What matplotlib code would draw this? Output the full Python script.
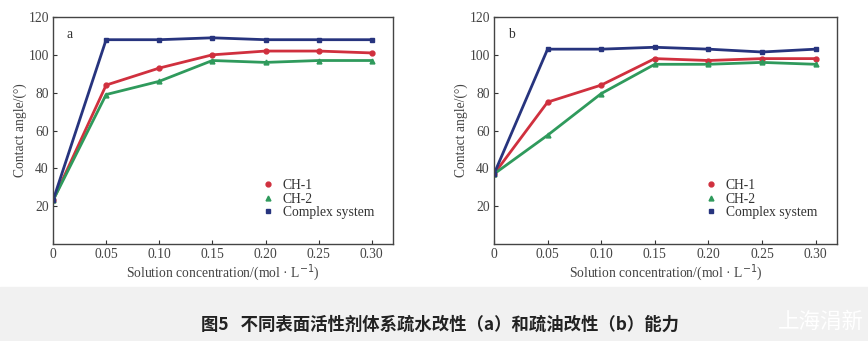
import numpy as np
import matplotlib.pyplot as plt
from matplotlib.patches import Rectangle

conc = [0, 0.05, 0.10, 0.15, 0.20, 0.25, 0.30]
xticks = [0, 0.05, 0.10, 0.15, 0.20, 0.25, 0.30]
xticklabels = ["0", "0.05", "0.10", "0.15", "0.20", "0.25", "0.30"]
yticks = [20, 40, 60, 80, 100, 120]

# (a) hydrophobic modification
a_ch1 = [23, 84, 93, 100, 102, 102, 101]
a_ch2 = [23, 79, 86, 97, 96, 97, 97]
a_cx = [23, 108, 108, 109, 108, 108, 108]

# (b) oleophobic modification
b_ch1 = [37, 75, 84, 98, 97, 98, 98]
b_ch2 = [37, 57.5, 79.5, 95, 95, 96, 95]
b_cx = [37, 103, 103, 104, 103, 101.5, 103]

names = ["CH-1", "CH-2", "Complex system"]
colors = ["#d0303e", "#2f9a5c", "#27347e"]
markers = ["o", "^", "s"]

serif = ["Liberation Serif", "DejaVu Serif"]
fs = 9.8

fig = plt.figure(figsize=(8.68, 3.41), dpi=100)
fig.patches.append(Rectangle((0, 0), 1, 54 / 341, transform=fig.transFigure,
                             color="#f1f1f1", zorder=0))

W, H = 868, 341
boxes = [(53, 17, 393, 244), (494, 17, 837, 244)]
panels = [("a", a_ch1, a_ch2, a_cx), ("b", b_ch1, b_ch2, b_cx)]

for (x0, y0, x1, y1), (tag, s1, s2, s3) in zip(boxes, panels):
    ax = fig.add_axes([x0 / W, 1 - y1 / H, (x1 - x0) / W, (y1 - y0) / H])
    for ys, c, m, n in zip([s1, s2, s3], colors, markers, names):
        ax.plot(conc, ys, color=c, lw=2.0, marker=m, ms=3.5, label=n)
    ax.set_xlim(0, 0.32)
    ax.set_ylim(0, 120)
    ax.set_xticks(xticks)
    ax.set_xticklabels(xticklabels)
    ax.set_yticks(yticks)
    ax.tick_params(direction="in", length=3, width=0.8, labelsize=fs,
                   colors="#333333", labelcolor="#444444", pad=3)
    for lab in ax.get_xticklabels() + ax.get_yticklabels():
        lab.set_family(serif)
    for sp in ax.spines.values():
        sp.set_color("#444444")
        sp.set_linewidth(1.0)
    ax.set_xlabel("Solution concentration/(mol · L$^{-1}$)", family=serif,
                  fontsize=fs, color="#444444", labelpad=1)
    ax.set_ylabel("Contact angle/(°)", family=serif, fontsize=fs,
                  color="#444444", labelpad=1)
    ax.text(0.04, 0.925, tag, transform=ax.transAxes, family=serif,
            fontsize=fs, color="#333333", va="center")
    handles = [plt.Line2D([], [], ls="none", marker=m, color=c, ms=3.5)
               for c, m in zip(colors, markers)]
    ax.legend(handles, names, loc="lower left", bbox_to_anchor=(0.60, 0.085),
              frameon=False, handlelength=0.8, handletextpad=0.7,
              labelspacing=0.05, borderaxespad=0,
              prop={"family": serif, "size": fs}, labelcolor="#333333")

fig.text(440 / W, 1 - 325 / H,
         "图5   不同表面活性剂体系疏水改性（a）和疏油改性（b）能力",
         ha="center", va="center", fontsize=12.5, fontweight="bold",
         family=["Noto Sans CJK SC", "DejaVu Sans"], color="#222222")
fig.text(864 / W, 1 - 322 / H, "上海涓新", ha="right", va="center",
         fontsize=15.5, family=["Noto Sans CJK SC", "DejaVu Sans"],
         color="white")

fig.savefig("out.png", dpi=100)
